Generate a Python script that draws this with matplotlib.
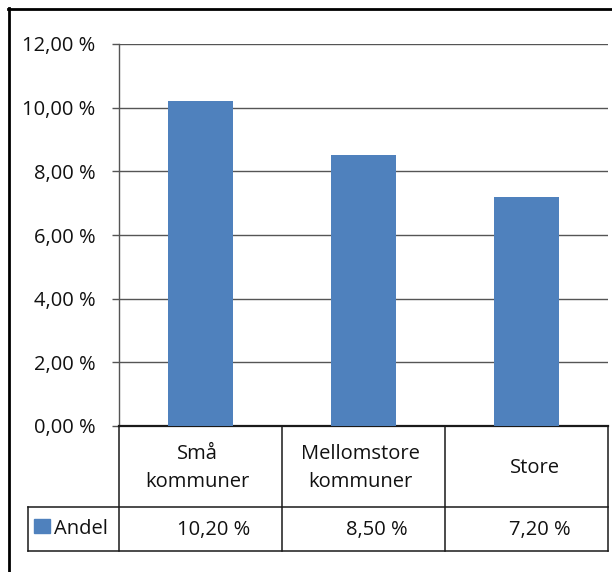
import matplotlib
matplotlib.use("Agg")
import matplotlib.pyplot as plt
from matplotlib.transforms import blended_transform_factory
from matplotlib.lines import Line2D
from matplotlib.patches import Rectangle

categories = ["Små\nkommuner", "Mellomstore\nkommuner", "Store"]
andel = [10.20, 8.50, 7.20]
series_name = "Andel"
yticks = [0, 2, 4, 6, 8, 10, 12]

BAR = "#4F81BD"
TXT = "#111111"
FS = 14.5
W, H = 612, 572
plt.rcParams["font.family"] = ["Open Sans", "DejaVu Sans"]


def fx(px):
    return px / W


def fy(py):
    return 1 - py / H


def pct(v):
    return f"{v:.2f}".replace(".", ",") + " %"


fig = plt.figure(figsize=(W / 100, H / 100), dpi=100)
ax = fig.add_axes([fx(119), fy(426), fx(608) - fx(119), fy(44) - fy(426)])

x = list(range(len(categories)))
ax.bar(x, andel, width=0.4, color=BAR, zorder=3)
ax.set_xlim(-0.5, len(categories) - 0.5)
ax.set_ylim(0, 12)
ax.set_yticks(yticks)
ax.set_yticklabels([pct(v) for v in yticks], fontsize=FS, color=TXT)
ax.set_xticks([])
ax.yaxis.grid(True, color="#555555", linewidth=1.0, zorder=0)
ax.tick_params(axis="y", length=5, width=1.0, color="#555555", pad=12, direction="out")
for s in ("top", "right"):
    ax.spines[s].set_visible(False)
ax.spines["left"].set_color("#555555")
ax.spines["left"].set_linewidth(1.0)
ax.spines["bottom"].set_color("#1a1a1a")
ax.spines["bottom"].set_linewidth(1.6)

# data table under the plot
bt = blended_transform_factory(ax.transData, fig.transFigure)
lc = "#1a1a1a"
lw = 1.1
y_axis, y_mid, y_bot = fy(426), fy(507), fy(551)
for i in range(len(categories) + 1):
    fig.add_artist(Line2D([i - 0.5, i - 0.5], [y_axis, y_bot], transform=bt,
                          color=lc, linewidth=lw))
fig.add_artist(Line2D([fx(28), fx(608)], [y_mid, y_mid], transform=fig.transFigure,
                      color=lc, linewidth=lw))
fig.add_artist(Line2D([fx(28), fx(608)], [y_bot, y_bot], transform=fig.transFigure,
                      color=lc, linewidth=lw))
fig.add_artist(Line2D([fx(28), fx(28)], [y_mid, y_bot], transform=fig.transFigure,
                      color=lc, linewidth=lw))

for i, (c, v) in enumerate(zip(categories, andel)):
    dx = 0.05 if "\n" not in c else -0.02
    fig.text(i + dx, fy(468), c, transform=bt, ha="center", va="center",
             fontsize=FS, color=TXT, linespacing=1.55)
    fig.text(i + 0.08, fy(530), pct(v), transform=bt, ha="center", va="center",
             fontsize=FS, color=TXT)

fig.add_artist(Rectangle((fx(34), fy(533)), fx(16), fy(519) - fy(533),
                         transform=fig.transFigure, color=BAR))
fig.text(fx(54), fy(529), series_name, ha="left", va="center", fontsize=FS,
         color=TXT)

# outer chart frame
fig.add_artist(Line2D([fx(9), fx(9)], [fy(8), 0], transform=fig.transFigure,
                      color="black", linewidth=2.0))
fig.add_artist(Line2D([fx(8), 1], [fy(9), fy(9)], transform=fig.transFigure,
                      color="black", linewidth=2.0))

fig.savefig("out.png", dpi=100)
